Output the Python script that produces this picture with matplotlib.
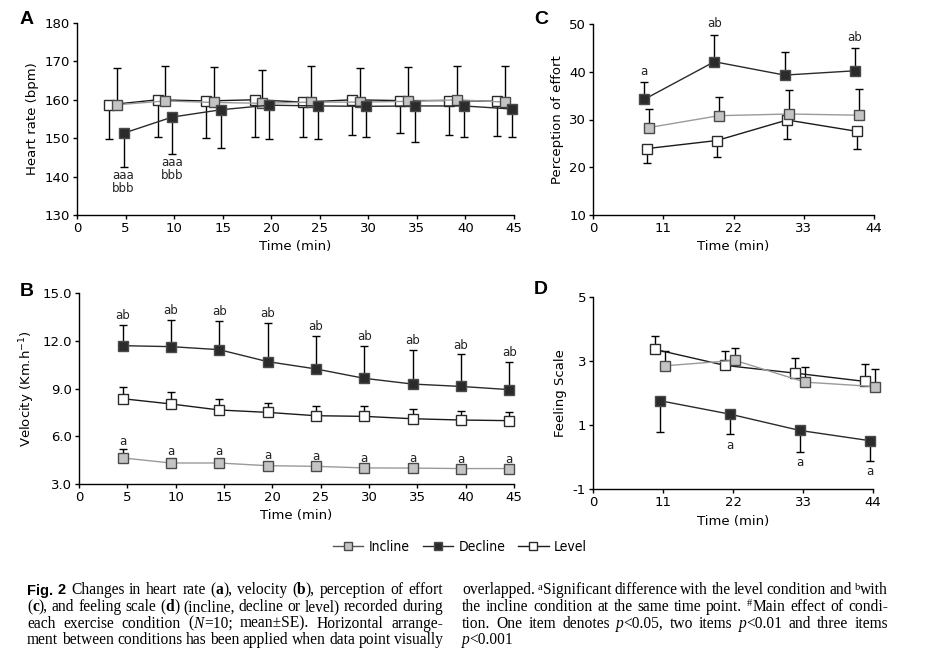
import matplotlib
matplotlib.use("Agg")
import matplotlib.pyplot as plt
from matplotlib.lines import Line2D
from matplotlib.font_manager import FontProperties

# =========================
# DATA
# =========================

CONDITIONS = ["Incline", "Decline", "Level"]

# A - heart rate (bpm)
A_TIME = [5, 10, 15, 20, 25, 30, 35, 40, 45]
A_INCLINE = [158.7, 159.7, 159.3, 159.1, 159.4, 159.4, 159.6, 160.0, 159.4]
A_INCLINE_SE = [9.6, 9.2, 9.3, 8.6, 9.5, 8.9, 9.0, 8.9, 9.5]
A_DECLINE = [151.3, 155.5, 157.4, 158.6, 158.4, 158.3, 158.4, 158.4, 157.6]
A_DECLINE_SE = [8.9, 9.7, 10.0, 8.7, 8.7, 7.9, 9.5, 8.0, 7.2]
A_LEVEL = [158.7, 160.0, 159.7, 160.0, 159.4, 160.0, 159.8, 159.8, 159.6]
A_LEVEL_SE = [9.0, 9.7, 9.7, 9.6, 9.0, 9.1, 8.5, 8.9, 9.0]
A_DECLINE_SIG = ["aaa\nbbb", "aaa\nbbb", "", "", "", "", "", "", ""]

# B - velocity (km/h)
B_TIME = [5, 10, 15, 20, 25, 30, 35, 40, 45]
B_INCLINE = [4.64, 4.32, 4.32, 4.15, 4.11, 4.01, 4.00, 3.97, 3.97]
B_INCLINE_SE = [0.55, 0.20, 0.25, 0.15, 0.12, 0.10, 0.10, 0.10, 0.10]
B_DECLINE = [11.69, 11.63, 11.44, 10.69, 10.23, 9.64, 9.28, 9.13, 8.93]
B_DECLINE_SE = [1.32, 1.69, 1.82, 2.43, 2.07, 2.03, 2.14, 2.01, 1.76]
B_LEVEL = [8.36, 8.03, 7.65, 7.50, 7.29, 7.25, 7.10, 7.02, 6.98]
B_LEVEL_SE = [0.71, 0.75, 0.69, 0.57, 0.59, 0.63, 0.61, 0.54, 0.52]
B_INCLINE_SIG = ["a"] * 9
B_DECLINE_SIG = ["ab"] * 9

# C - perception of effort
C_TIME = [11, 22, 33, 44]
C_INCLINE = [28.3, 30.8, 31.15, 30.9]
C_INCLINE_SE = [3.8, 4.0, 5.0, 5.4]
C_DECLINE = [34.2, 42.1, 39.3, 40.2]
C_DECLINE_SE = [3.6, 5.7, 4.8, 4.8]
C_LEVEL = [23.9, 25.6, 29.9, 27.5]
C_LEVEL_SE = [3.1, 3.5, 4.05, 3.75]
C_DECLINE_SIG = ["a", "ab", "", "ab"]

# D - feeling scale
D_TIME = [11, 22, 33, 44]
D_INCLINE = [2.85, 3.02, 2.34, 2.20]
D_INCLINE_SE = [0.46, 0.39, 0.48, 0.54]
D_DECLINE = [1.76, 1.34, 0.83, 0.51]
D_DECLINE_SE = [0.97, 0.63, 0.66, 0.62]
D_LEVEL = [3.36, 2.86, 2.62, 2.36]
D_LEVEL_SE = [0.43, 0.45, 0.48, 0.55]
D_DECLINE_SIG = ["", "a", "a", "a"]

# =========================
# STYLE
# =========================

W, H = 926, 665

STYLES = {
    "Incline": {"line": "#9a9a9a", "face": "#c4c4c4", "edge": "#4a4a4a"},
    "Decline": {"line": "#2a2a2a", "face": "#2b2b2b", "edge": "#4a4a4a"},
    "Level": {"line": "#1a1a1a", "face": "white", "edge": "#2a2a2a"},
}

# horizontal arrangement of the conditions (min) and error bar direction
SHIFT = {
    "A": {"Incline": -0.9, "Decline": -0.2, "Level": -1.7},
    "B": {"Incline": -0.5, "Decline": -0.5, "Level": -0.5},
    "C": {"Incline": -2.3, "Decline": -3.0, "Level": -2.6},
    "D": {"Incline": 0.3, "Decline": -0.5, "Level": -1.2},
}
ERR_DIR = {
    "A": {"Incline": 1, "Decline": -1, "Level": -1},
    "B": {"Incline": 1, "Decline": 1, "Level": 1},
    "C": {"Incline": 1, "Decline": 1, "Level": -1},
    "D": {"Incline": 1, "Decline": -1, "Level": 1},
}

plt.rcParams["font.family"] = "DejaVu Sans"
plt.rcParams["axes.linewidth"] = 1.0
plt.rcParams["axes.unicode_minus"] = False

TICK_SIZE = 9.5
LABEL_SIZE = 9.5


def px_axes(fig, left, top, right, bottom):
    return fig.add_axes([left / W, 1 - bottom / H, (right - left) / W, (bottom - top) / H])


def style_axes(ax):
    ax.spines["top"].set_visible(False)
    ax.spines["right"].set_visible(False)
    ax.tick_params(direction="out", length=3, width=1, labelsize=TICK_SIZE, pad=2)


def draw_series(ax, panel, cond, time, y, se):
    st = STYLES[cond]
    x = [t + SHIFT[panel][cond] for t in time]
    d = ERR_DIR[panel][cond]
    lo = [s if d < 0 else 0 for s in se]
    hi = [s if d > 0 else 0 for s in se]
    eb = ax.errorbar(x, y, yerr=[lo, hi], fmt="none", ecolor="black",
                     elinewidth=1, capsize=3, capthick=1, zorder=2)
    for art in eb.lines[1] + eb.lines[2]:
        art.set_clip_on(False)
    ax.plot(x, y, color=st["line"], lw=1, marker="s", ms=7,
            mfc=st["face"], mec=st["edge"], mew=1, zorder=3, clip_on=False)
    return x


def sig_labels(ax, x, y, se, labels, above, offset):
    for xi, yi, si, lab in zip(x, y, se, labels):
        if not lab:
            continue
        if above:
            ax.annotate(lab, (xi, yi + si), xytext=(0, offset), textcoords="offset points",
                        ha="center", va="bottom", fontsize=8.5, color="#222222")
        else:
            ax.annotate(lab, (xi, yi - si), xytext=(0, -offset), textcoords="offset points",
                        ha="center", va="top", fontsize=8.5, color="#222222",
                        linespacing=1.0)


fig = plt.figure(figsize=(W / 100, H / 100), dpi=100)

# =========================
# A
# =========================
axA = px_axes(fig, 77, 23, 514, 215)
draw_series(axA, "A", "Level", A_TIME, A_LEVEL, A_LEVEL_SE)
draw_series(axA, "A", "Incline", A_TIME, A_INCLINE, A_INCLINE_SE)
xd = draw_series(axA, "A", "Decline", A_TIME, A_DECLINE, A_DECLINE_SE)
sig_labels(axA, xd, A_DECLINE, A_DECLINE_SE, A_DECLINE_SIG, False, 1.5)
axA.set_xlim(0, 45)
axA.set_ylim(130, 180)
axA.set_xticks(range(0, 46, 5))
axA.set_yticks(range(130, 181, 10))
axA.set_xlabel("Time (min)", fontsize=LABEL_SIZE)
axA.set_ylabel("Heart rate (bpm)", fontsize=LABEL_SIZE)
style_axes(axA)

# =========================
# B
# =========================
axB = px_axes(fig, 79, 293, 514, 484)
xl = draw_series(axB, "B", "Level", B_TIME, B_LEVEL, B_LEVEL_SE)
xi = draw_series(axB, "B", "Incline", B_TIME, B_INCLINE, B_INCLINE_SE)
xd = draw_series(axB, "B", "Decline", B_TIME, B_DECLINE, B_DECLINE_SE)
sig_labels(axB, xi, B_INCLINE, B_INCLINE_SE, B_INCLINE_SIG, True, 1.0)
sig_labels(axB, xd, B_DECLINE, B_DECLINE_SE, B_DECLINE_SIG, True, 2.0)
axB.set_xlim(0, 45)
axB.set_ylim(3, 15)
axB.set_xticks(range(0, 46, 5))
axB.set_yticks([3, 6, 9, 12, 15])
axB.set_yticklabels([f"{v:.1f}" for v in [3, 6, 9, 12, 15]])
axB.set_xlabel("Time (min)", fontsize=LABEL_SIZE)
axB.set_ylabel("Velocity (Km.h$^{-1}$)", fontsize=LABEL_SIZE)
style_axes(axB)

# =========================
# C
# =========================
axC = px_axes(fig, 593, 24, 874, 215)
draw_series(axC, "C", "Level", C_TIME, C_LEVEL, C_LEVEL_SE)
draw_series(axC, "C", "Incline", C_TIME, C_INCLINE, C_INCLINE_SE)
xd = draw_series(axC, "C", "Decline", C_TIME, C_DECLINE, C_DECLINE_SE)
sig_labels(axC, xd, C_DECLINE, C_DECLINE_SE, C_DECLINE_SIG, True, 3.0)
axC.set_xlim(0, 44)
axC.set_ylim(10, 50)
axC.set_xticks([0, 11, 22, 33, 44])
axC.set_yticks(range(10, 51, 10))
axC.set_xlabel("Time (min)", fontsize=LABEL_SIZE)
axC.set_ylabel("Perception of effort", fontsize=LABEL_SIZE)
style_axes(axC)

# =========================
# D
# =========================
axD = px_axes(fig, 593, 297, 873, 489)
draw_series(axD, "D", "Level", D_TIME, D_LEVEL, D_LEVEL_SE)
draw_series(axD, "D", "Incline", D_TIME, D_INCLINE, D_INCLINE_SE)
xd = draw_series(axD, "D", "Decline", D_TIME, D_DECLINE, D_DECLINE_SE)
sig_labels(axD, xd, D_DECLINE, D_DECLINE_SE, D_DECLINE_SIG, False, 3.5)
axD.set_xlim(0, 44)
axD.set_ylim(-1, 5)
axD.set_xticks([0, 11, 22, 33, 44])
axD.set_yticks([-1, 1, 3, 5])
axD.set_xlabel("Time (min)", fontsize=LABEL_SIZE)
axD.set_ylabel("Feeling Scale", fontsize=LABEL_SIZE)
style_axes(axD)

# panel letters
for lab, (px, py) in {"A": (27, 20), "B": (27, 291), "C": (541, 19), "D": (541, 290)}.items():
    fig.text(px / W, 1 - py / H, lab, fontsize=14, fontweight="bold",
             family=["Liberation Sans", "DejaVu Sans"], ha="center", va="center")

# =========================
# LEGEND
# =========================
handles = [
    Line2D([], [], color=STYLES[c]["line"] if c != "Incline" else "#555555", lw=1,
           marker="s", ms=6, mfc=STYLES[c]["face"], mec=STYLES[c]["edge"])
    for c in CONDITIONS
]
legend_font = FontProperties(family="DejaVu Sans", stretch="condensed", size=10)
fig.legend(handles, CONDITIONS, loc="center", bbox_to_anchor=(460 / W, 1 - 547 / H),
           ncol=3, frameon=False, handlelength=2.2, handletextpad=0.4,
           columnspacing=0.9, prop=legend_font)

# =========================
# CAPTION (justified, two columns)
# =========================
CAPTION_LEFT = [
    [("Fig. 2", "fig"), (" Changes in heart rate (", "r"), ("a", "b"), ("), velocity (", "r"),
     ("b", "b"), ("), perception of effort", "r")],
    [("(", "r"), ("c", "b"), ("), and feeling scale (", "r"), ("d", "b"),
     (") (incline, decline or level) recorded during", "r")],
    [("each exercise condition (", "r"), ("N", "i"), ("=10; mean±SE). Horizontal arrange-", "r")],
    [("ment between conditions has been applied when data point visually", "r")],
]
CAPTION_RIGHT = [
    [("overlapped. ", "r"), ("a", "sup"), ("Significant difference with the level condition and ", "r"),
     ("b", "sup"), ("with", "r")],
    [("the incline condition at the same time point. ", "r"), ("#", "sup"), ("Main effect of condi-", "r")],
    [("tion. One item denotes ", "r"), ("p", "i"), ("<0.05, two items ", "r"), ("p", "i"),
     ("<0.01 and three items", "r")],
    [("p", "i"), ("<0.001", "r")],
]

SERIF = ["Liberation Serif", "DejaVu Serif"]
CAP_SIZE = 11.2
RUN_STYLE = {
    "r": dict(family=SERIF, fontsize=CAP_SIZE),
    "b": dict(family=SERIF, fontsize=CAP_SIZE, fontweight="bold"),
    "i": dict(family=SERIF, fontsize=CAP_SIZE, fontstyle="italic"),
    "sup": dict(family=SERIF, fontsize=7.5),
    "fig": dict(family=["Liberation Sans", "DejaVu Sans"], fontsize=10.5, fontweight="bold"),
}

renderer = fig.canvas.get_renderer()


def words_of(runs):
    words = [[]]
    for text, st in runs:
        for k, part in enumerate(text.split(" ")):
            if k > 0 and words[-1]:
                words.append([])
            if part:
                words[-1].append((part, st))
    return [w for w in words if w]


def draw_column(lines, x0, x1, baselines, justify_last):
    for n, (runs, yb) in enumerate(zip(lines, baselines)):
        words = words_of(runs)
        placed = []
        widths = []
        for word in words:
            items = []
            ww = 0
            for part, st in word:
                t = fig.text(0, 0, part, va="baseline", ha="left", color="black", **RUN_STYLE[st])
                w = t.get_window_extent(renderer).width
                items.append((t, w, st))
                ww += w
            placed.append(items)
            widths.append(ww)
        justify = n < len(lines) - 1 or justify_last
        if justify and len(words) > 1:
            gap = (x1 - x0 - sum(widths)) / (len(words) - 1)
        else:
            gap = 3.5
        x = x0
        for items, ww in zip(placed, widths):
            for t, w, st in items:
                dy = 4.5 if st == "sup" else 0
                t.set_position((x / W, 1 - (yb - dy) / H))
                x += w
            x += gap


BASELINES = [594.5, 611, 627.5, 644]
draw_column(CAPTION_LEFT, 27, 443, BASELINES, True)
draw_column(CAPTION_RIGHT, 462, 888, BASELINES, False)

fig.savefig("out.png", dpi=100, facecolor="white")
